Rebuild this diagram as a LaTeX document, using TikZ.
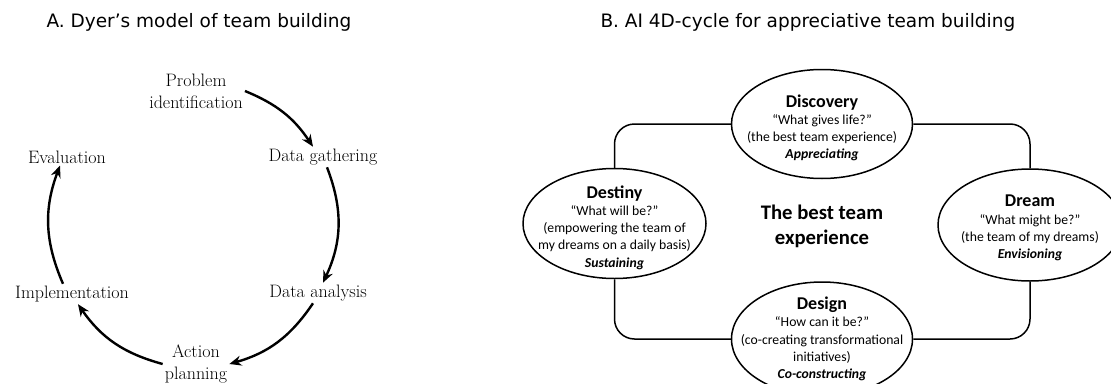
\documentclass[tikz,border=0pt]{standalone}
\usepackage{fontspec}
\newfontfamily\calib{Carlito}
\newfontfamily\headfont{DejaVu Sans}
\usepackage{tikz}
\usetikzlibrary{shapes,arrows.meta,positioning}

\begin{document}
\begin{tikzpicture}[x=1pt,y=1pt,
    heading/.style={anchor=west,font=\headfont\fontsize{18.5}{20}\selectfont},
    stage/.style={align=center,inner sep=2pt,font=\fontsize{18}{21.7}\selectfont},
    cycarrow/.style={-{Stealth[length=12pt,width=10pt]},line width=2.4pt},
    phase/.style={draw,ellipse,line width=1.5pt,inner sep=0pt,minimum width=181pt,minimum height=109pt},
    phasetext/.style={align=center,font=\calib\fontsize{13.7}{17.2}\selectfont},
    link/.style={line width=1.5pt,rounded corners=20pt}
]
\useasboundingbox (0,0) rectangle (1111,-383);

% titles
\node[heading] (ttla) at (43,-22) {A. Dyer’s model of team building};
\node[heading] (ttlb) at (597,-22) {B. AI 4D-cycle for appreciative team building};

% A: Dyer cycle
\node[stage] (prob) at (196,-91) {Problem\\identification};
\node[stage] (gath) at (323,-157) {Data gathering};
\node[stage] (anal) at (318,-293) {Data analysis};
\node[stage] (act) at (196,-364) {Action\\planning};
\node[stage] (impl) at (72,-294) {Implementation};
\node[stage] (eval) at (67,-157) {Evaluation};

\draw[cycarrow] (prob.east) to[bend left=17] ([xshift=-10pt]gath.north);
\draw[cycarrow] ([xshift=4pt]gath.south) to[bend left=23] ([xshift=5pt]anal.north);
\draw[cycarrow] ([xshift=-5pt]anal.south) to[bend left=20] (act.east);
\draw[cycarrow] (act.west) to[bend left=20] ([xshift=6pt]impl.south);
\draw[cycarrow] ([xshift=-9pt]impl.north) to[bend left=22] ([xshift=-7pt]eval.south);

% B: 4D cycle
\node[phase] (disc) at (822,-124) {};
\node[phase,minimum width=183pt,minimum height=110pt] (dest) at (614.5,-223.5) {};
\node[phase,minimum width=184pt,minimum height=112pt] (dream) at (1030,-225) {};
\node[phase,minimum height=114pt] (design) at (822,-339) {};

\draw[link] (disc.west) -| (dest.north);
\draw[link] (disc.east) -| (dream.north);
\draw[link] (dest.south) |- (design.west);
\draw[link] (dream.south) |- (design.east);

\node[phasetext] (disct) at ([yshift=-4pt]disc) {{\bfseries\fontsize{18}{19}\selectfont Discovery}\\
    “What gives life?”\\ (the best team experience)\\ \textbf{\textit{Appreciating}}};
\node[phasetext] (destt) at ([yshift=-4pt]dest) {{\bfseries\fontsize{18}{19}\selectfont Destiny}\\
    “What will be?”\\ (empowering the team of\\ my dreams on a daily basis)\\ \textbf{\textit{Sustaining}}};
\node[phasetext] (dreamt) at ([yshift=-3pt]dream) {{\bfseries\fontsize{18}{19}\selectfont Dream}\\
    “What might be?”\\ (the team of my dreams)\\ \textbf{\textit{Envisioning}}};
\node[phasetext] (designt) at (design) {{\bfseries\fontsize{18}{19}\selectfont Design}\\
    “How can it be?”\\ (co-creating transformational\\ initiatives)\\ \textbf{\textit{Co-constructing}}};

\node[align=center,font=\calib\bfseries\fontsize{20.7}{25}\selectfont] (core) at (822,-226) {The best team\\experience};
\end{tikzpicture}
\end{document}
